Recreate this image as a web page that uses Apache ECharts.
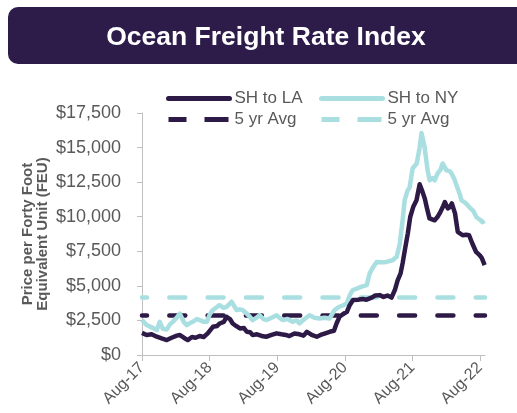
<!DOCTYPE html>
<html><head><meta charset="utf-8">
<script src="https://cdn.jsdelivr.net/npm/echarts@6/dist/echarts.min.js"></script>
<style>html,body{margin:0;padding:0;background:#fff}#c{width:517px;height:413px}</style>
</head><body><div id="c"></div>
<script>
const title = 'Ocean Freight Rate Index';
const yAxisTitle = 'Price per Forty Foot\nEquivalent Unit (FEU)';
const seriesNames = ['SH to LA', 'SH to NY', '5 yr Avg'];
const xTickLabels = ['Aug-17', 'Aug-18', 'Aug-19', 'Aug-20', 'Aug-21', 'Aug-22'];
const xTickDates = ['2017-08-01', '2018-08-01', '2019-08-01', '2020-08-01', '2021-08-01', '2022-08-01'];
const yTicks = [0, 2500, 5000, 7500, 10000, 12500, 15000, 17500];

const laDates = ['2017-08-01','2017-08-26','2017-09-22','2017-10-20','2017-11-15','2017-12-13','2018-01-08','2018-02-05','2018-02-22','2018-03-15','2018-04-05','2018-04-28','2018-05-17','2018-06-08','2018-06-30','2018-07-22','2018-08-19','2018-09-11','2018-09-25','2018-10-17','2018-11-01','2018-11-19','2018-12-04','2018-12-22','2019-01-12','2019-02-03','2019-02-18','2019-03-08','2019-03-22','2019-04-14','2019-05-09','2019-06-03','2019-07-02','2019-07-29','2019-08-24','2019-09-17','2019-10-06','2019-11-03','2019-11-30','2019-12-22','2020-01-09','2020-02-04','2020-03-02','2020-03-23','2020-04-13','2020-05-11','2020-06-03','2020-06-17','2020-07-03','2020-07-21','2020-08-12','2020-08-27','2020-09-14','2020-10-10','2020-11-05','2020-11-26','2020-12-24','2021-01-12','2021-02-05','2021-02-26','2021-03-19','2021-04-10','2021-04-28','2021-05-13','2021-05-29','2021-06-09','2021-06-21','2021-07-07','2021-07-20','2021-08-05','2021-08-23','2021-09-09','2021-09-25','2021-10-07','2021-10-17','2021-11-01','2021-11-29','2021-12-15','2021-12-26','2022-01-12','2022-01-23','2022-02-08','2022-02-19','2022-03-02','2022-03-19','2022-04-03','2022-04-29','2022-05-18','2022-06-03','2022-06-20','2022-07-11','2022-07-31','2022-08-11','2022-08-26'];
const laValues = [1600,1450,1500,1320,1200,1080,1250,1400,1440,1250,1080,1300,1250,1370,1300,1560,2040,2100,2280,2400,2760,2600,2280,2100,1920,1950,1680,1650,1440,1500,1380,1320,1450,1565,1500,1450,1370,1550,1500,1400,1680,1450,1320,1450,1550,1680,1750,2280,2760,2950,3125,3600,3970,4000,4050,4000,4150,4300,4330,4200,4300,4150,4700,5400,5900,6640,7580,8800,9980,10700,11190,12350,11780,11300,10700,9880,9740,10000,10240,10700,11060,10600,10700,10960,10240,8900,8660,8700,8660,8080,7450,7200,7000,6500];

const nyDates = ['2017-08-01','2017-08-26','2017-09-22','2017-10-20','2017-11-05','2017-11-21','2017-12-13','2017-12-29','2018-01-14','2018-02-05','2018-02-21','2018-03-14','2018-03-31','2018-04-16','2018-05-02','2018-05-24','2018-06-09','2018-07-01','2018-07-17','2018-08-01','2018-08-18','2018-09-08','2018-09-24','2018-10-16','2018-11-01','2018-11-17','2018-11-28','2018-12-14','2018-12-25','2019-01-10','2019-01-26','2019-02-17','2019-03-05','2019-03-21','2019-04-12','2019-04-28','2019-05-20','2019-06-05','2019-07-02','2019-07-29','2019-08-14','2019-08-30','2019-09-26','2019-10-23','2019-11-14','2019-11-30','2019-12-27','2020-01-23','2020-02-19','2020-03-17','2020-04-13','2020-05-10','2020-06-06','2020-07-03','2020-07-25','2020-08-11','2020-08-27','2020-09-12','2020-10-04','2020-10-31','2020-11-27','2020-12-13','2020-12-29','2021-01-20','2021-02-16','2021-03-15','2021-03-31','2021-04-16','2021-05-08','2021-05-24','2021-06-09','2021-06-20','2021-07-06','2021-07-17','2021-08-02','2021-08-24','2021-09-09','2021-09-19','2021-10-06','2021-10-22','2021-11-02','2021-11-18','2021-11-29','2021-12-15','2021-12-31','2022-01-11','2022-01-22','2022-02-01','2022-02-18','2022-02-28','2022-03-16','2022-03-27','2022-04-12','2022-04-23','2022-05-14','2022-06-05','2022-06-27','2022-07-13','2022-07-30','2022-08-15','2022-08-26'];
const nyValues = [2525,2165,2000,1800,2400,1900,1850,2200,2400,2700,3000,2400,2165,2300,2400,2600,2525,2400,2400,2900,3250,3450,3600,3400,3480,3700,3850,3500,3250,3300,3250,3000,2800,2525,2700,2880,2600,2525,2700,2880,2700,2525,2600,2400,2500,2290,2600,2880,2700,2640,2700,2640,3250,3490,3600,3730,4300,4700,4800,4950,5050,5900,6300,6730,6700,6730,6800,6850,7100,8000,9740,11200,11900,12120,13490,13850,15000,16050,15010,13350,12630,12800,12630,13130,13400,13850,13600,13350,13300,13130,12700,12270,11700,11190,11000,10680,10400,9960,9800,9600,9700];

const laAvg = 2850;
const nyAvg = 4150;

const DARK = '#2e1a47';
const CYAN = '#a9dfe1';
const GRAY = '#595959';
const xMin = Date.parse('2017-08-01');
const xMax = Date.parse('2022-08-28');
const tickTs = xTickDates.map(d => Date.parse(d));

const chart = echarts.init(document.getElementById('c'), null, {renderer: 'canvas'});
const zip = (ds, vs) => ds.map((d, i) => [Date.parse(d), vs[i]]);
const fmtMoney = v => '$' + v.toLocaleString('en-US');

const legendBase = {orient: 'vertical', top: 90, itemWidth: 61, itemHeight: 14, itemGap: 4, padding: 0,
  textStyle: {color: GRAY, fontSize: 17}, itemStyle: {opacity: 0}, formatter: n => n.trim()};
const solidLegend = {width: 5, type: 'solid', cap: 'round'};
const dashLegend = {width: 5, type: [18, 18, 24, 18], dashOffset: 0, cap: 'butt'};

chart.setOption({
  animation: false,
  textStyle: {fontFamily: 'Liberation Sans, Arial, sans-serif'},
  graphic: [
    {type: 'rect', shape: {x: 8, y: 7, width: 530, height: 57, r: 10}, style: {fill: '#2d1b4a'}, z: 0},
    {type: 'text', x: 266, y: 38, style: {text: title, fill: '#ffffff', font: 'bold 26.5px "Liberation Sans", Arial, sans-serif', textAlign: 'center', textVerticalAlign: 'middle'}},
    {type: 'text', x: 35, y: 234, rotation: Math.PI / 2, style: {text: yAxisTitle, fill: GRAY, font: 'bold 15px "Liberation Sans", Arial, sans-serif', textAlign: 'center', textVerticalAlign: 'middle', lineHeight: 15}}
  ],
  legend: [
    Object.assign({left: 166, data: [{name: seriesNames[0], lineStyle: solidLegend}, {name: seriesNames[2], lineStyle: dashLegend}]}, legendBase),
    Object.assign({left: 319, data: [{name: seriesNames[1], lineStyle: solidLegend}, {name: seriesNames[2] + ' ', lineStyle: dashLegend}]}, legendBase)
  ],
  grid: {left: 142, right: 32, top: 113, bottom: 58, containLabel: false},
  xAxis: {
    type: 'value', min: xMin, max: xMax,
    axisLine: {lineStyle: {color: '#bfbfbf', width: 1}},
    axisTick: {show: true, length: 6, lineStyle: {color: '#bfbfbf'}, customValues: tickTs},
    axisLabel: {customValues: tickTs, rotate: 45, margin: 10, color: GRAY, fontSize: 16,
      formatter: v => { const i = tickTs.indexOf(v); return i >= 0 ? xTickLabels[i] : ''; }},
    splitLine: {show: false}
  },
  yAxis: {
    type: 'value', min: 0, max: yTicks[yTicks.length - 1], interval: 2500,
    axisLine: {show: true, lineStyle: {color: '#bfbfbf', width: 1}},
    axisTick: {show: true, length: 5, lineStyle: {color: '#bfbfbf'}},
    axisLabel: {color: GRAY, fontSize: 18, margin: 21, formatter: fmtMoney},
    splitLine: {show: false}
  },
  series: [
    {name: seriesNames[2] + ' ', type: 'line', symbol: 'none', data: [[xMin, nyAvg], [xMax, nyAvg]],
     lineStyle: {color: CYAN, width: 4.5, type: [16, 22.3], dashOffset: 11, cap: 'round'}, itemStyle: {color: CYAN}},
    {name: seriesNames[2], type: 'line', symbol: 'none', data: [[xMin, laAvg], [xMax, laAvg]],
     lineStyle: {color: DARK, width: 4.5, type: [16, 22.3], dashOffset: 11, cap: 'round'}, itemStyle: {color: DARK}},
    {name: seriesNames[1], type: 'line', symbol: 'none', data: zip(nyDates, nyValues),
     lineStyle: {color: CYAN, width: 4.5, join: 'round'}, itemStyle: {color: CYAN}},
    {name: seriesNames[0], type: 'line', symbol: 'none', data: zip(laDates, laValues),
     lineStyle: {color: DARK, width: 4.5, join: 'round'}, itemStyle: {color: DARK}}
  ]
});
</script></body></html>
